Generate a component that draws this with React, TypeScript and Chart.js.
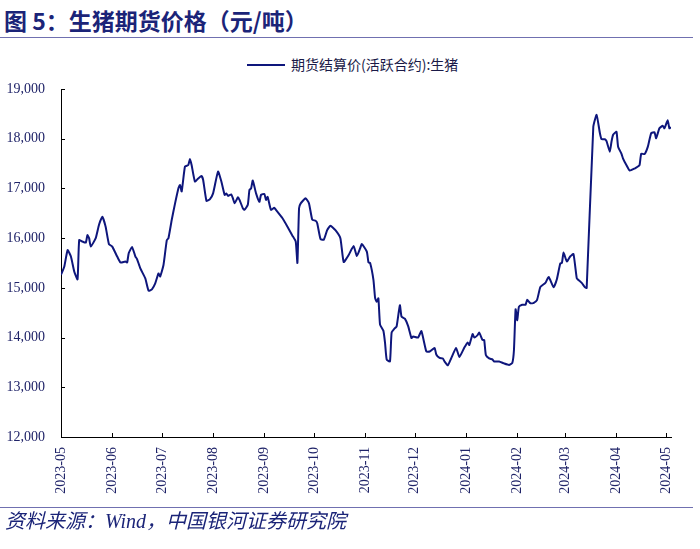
import React, { useEffect, useRef } from "react";
import { Chart, registerables } from "chart.js";

Chart.register(...registerables);

const TITLE = "图 5：生猪期货价格（元/吨）";
const SERIES_NAME = "期货结算价(活跃合约):生猪";
const SOURCE = "资料来源：Wind，中国银河证券研究院";

// trading days, counted in days since 2023-05-01
const dayOffsets = [
  0, 2, 4, 6, 8, 10, 11, 13, 15, 16, 17, 18, 21, 23, 25, 27, 29, 31, 34, 36,
  39, 40, 41, 43, 45, 46, 48, 51, 53, 55, 57, 59, 60, 62, 64, 65, 67, 69, 71, 72,
  73, 75, 77, 78, 79, 81, 83, 85, 86, 88, 90, 92, 95, 97, 99, 100, 101, 103, 104, 105,
  107, 108, 110, 111, 113, 114, 115, 116, 118, 120, 121, 123, 124, 125, 127, 129, 130, 134, 137, 140,
  142, 143, 144, 145, 148, 150, 152, 154, 155, 157, 159, 161, 163, 166, 169, 171, 174, 177, 179, 181,
  182, 185, 186, 187, 189, 190, 191, 192, 193, 195, 196, 197, 199, 200, 202, 203, 205, 206, 208, 210,
  212, 213, 216, 218, 221, 223, 226, 227, 229, 231, 232, 234, 236, 239, 241, 244, 246, 247, 249, 250,
  252, 253, 255, 256, 257, 259, 261, 262, 265, 268, 271, 273, 274, 275, 276, 277, 279, 281, 282, 284,
  286, 288, 290, 293, 295, 298, 300, 302, 303, 304, 306, 308, 310, 312, 313, 315, 317, 318, 322, 324,
  326, 327, 329, 330, 332, 333, 334, 336, 337, 339, 340, 342, 344, 347, 349, 350, 351, 353, 355, 357,
  359, 360, 362, 364, 365, 367, 368, 369,
];

const prices = [
  15260, 15430, 15760, 15630, 15330, 15170, 15960, 15930, 15910, 16060, 16000, 15830, 16000, 16270, 16430, 16230, 15880, 15830, 15630, 15510,
  15530, 15510, 15700, 15820, 15630, 15580, 15390, 15190, 14940, 14970, 15090, 15290, 15230, 15460, 15960, 16000, 16370, 16700, 17000, 17070,
  16940, 17440, 17470, 17590, 17470, 17140, 17200, 17250, 17170, 16750, 16780, 16900, 17340, 17140, 16870, 16900, 16850, 16880, 16800, 16700,
  16820, 16770, 16600, 16570, 16670, 16970, 17000, 17160, 16900, 16730, 16870, 16890, 16770, 16830, 16570, 16610, 16570, 16400, 16230, 16050,
  15930, 15500, 16600, 16700, 16800, 16700, 16370, 16350, 16300, 15980, 15970, 16160, 16250, 16160, 16000, 15520, 15660, 15840, 15640, 15800,
  15880, 15730, 15510, 15500, 15160, 14800, 14720, 14790, 14260, 14140, 13900, 13560, 13520, 14100, 14190, 14220, 14650, 14420, 14380, 14230,
  13990, 14020, 14000, 14130, 13720, 13720, 13790, 13660, 13590, 13580, 13520, 13440, 13580, 13790, 13610, 13800, 13900, 13850, 14070, 14000,
  14050, 14100, 13950, 13950, 13650, 13580, 13560, 13520, 13520, 13480, 13450, 13490, 13750, 14570, 14350, 14620, 14660, 14660, 14760, 14690,
  14700, 14760, 15020, 15100, 15220, 15010, 15180, 15490, 15500, 15710, 15530, 15630, 15680, 15190, 15160, 15100, 15010, 15000, 18240, 18480,
  18110, 17990, 17990, 17950, 17740, 17940, 18080, 18140, 17840, 17700, 17600, 17470, 17360, 17400, 17440, 17470, 17700, 17690, 17840, 18110,
  18130, 18010, 18210, 18260, 18210, 18370, 18210, 18230,
];

const monthTickDays = [0, 31, 61, 92, 123, 153, 184, 214, 245, 276, 305, 336, 366];
const monthTickLabels = [
  "2023-05", "2023-06", "2023-07", "2023-08", "2023-09", "2023-10", "2023-11",
  "2023-12", "2024-01", "2024-02", "2024-03", "2024-04", "2024-05",
];
const yTickValues = [12000, 13000, 14000, 15000, 16000, 17000, 18000, 19000];

const LINE_COLOR = "#0e167c";
const NAVY = "#1b2478";
const TICK_COLOR = "#1f2368";
const SERIF = "'Liberation Serif', 'Times New Roman', serif";
const CJK = "'Noto Sans CJK SC', sans-serif";

const innerTicks = {
  id: "innerTicks",
  afterDraw(chart: any) {
    const { ctx, chartArea, scales } = chart;
    ctx.save();
    ctx.strokeStyle = "#000";
    ctx.lineWidth = 1;
    ctx.beginPath();
    scales.x.ticks.forEach((t: any) => {
      const px = Math.round(scales.x.getPixelForValue(t.value)) + 0.5;
      ctx.moveTo(px, chartArea.bottom);
      ctx.lineTo(px, chartArea.bottom - 4);
    });
    scales.y.ticks.forEach((t: any) => {
      const py = Math.round(scales.y.getPixelForValue(t.value)) + 0.5;
      ctx.moveTo(chartArea.left, py);
      ctx.lineTo(chartArea.left + 4, py);
    });
    ctx.stroke();
    ctx.restore();
  },
};

export default function App() {
  const ref = useRef<HTMLCanvasElement | null>(null);

  useEffect(() => {
    if (!ref.current) return;
    const data = dayOffsets.map((d, i) => ({ x: d, y: prices[i] }));
    const chart = new Chart(ref.current, {
      type: "line",
      data: {
        datasets: [
          {
            label: SERIES_NAME,
            data,
            borderColor: LINE_COLOR,
            backgroundColor: LINE_COLOR,
            borderWidth: 2,
            pointRadius: 0,
            tension: 0.15,
          },
        ],
      },
      options: {
        responsive: false,
        maintainAspectRatio: false,
        animation: false,
        layout: { padding: { top: 89, left: 0, right: 29, bottom: 0 } },
        plugins: {
          legend: { display: false },
          tooltip: { enabled: false },
        },
        scales: {
          x: {
            type: "linear",
            min: 0,
            max: 369,
            afterBuildTicks: (s: any) => {
              s.ticks = monthTickDays.map((v) => ({ value: v }));
            },
            afterFit: (s: any) => {
              s.height = 112;
            },
            grid: { drawOnChartArea: false, drawTicks: false },
            border: { display: true, color: "#000", width: 1 },
            ticks: {
              autoSkip: false,
              maxRotation: 90,
              minRotation: 90,
              padding: 10,
              color: TICK_COLOR,
              font: { family: SERIF, size: 14 },
              callback: (_v: any, i: number) => monthTickLabels[i],
            },
          },
          y: {
            min: 12000,
            max: 19000,
            afterBuildTicks: (s: any) => {
              s.ticks = yTickValues.map((v) => ({ value: v }));
            },
            afterFit: (s: any) => {
              s.width = 61;
            },
            grid: { drawOnChartArea: false, drawTicks: false },
            border: { display: true, color: "#000", width: 1 },
            ticks: {
              padding: 16,
              color: TICK_COLOR,
              font: { family: SERIF, size: 14 },
              callback: (v: any) => Number(v).toLocaleString("en-US"),
            },
          },
        },
      },
      plugins: [innerTicks],
    } as any);
    return () => chart.destroy();
  }, []);

  return (
    <div
      style={{
        position: "absolute",
        left: 0,
        top: 0,
        width: 700,
        height: 549,
        background: "#fff",
        overflow: "hidden",
      }}
    >
      <div
        style={{
          position: "absolute",
          left: 4,
          top: 9,
          fontFamily: CJK,
          fontWeight: 700,
          fontSize: 23,
          lineHeight: "23px",
          color: NAVY,
          whiteSpace: "nowrap",
        }}
      >
        {TITLE}
      </div>
      <div style={{ position: "absolute", left: 0, top: 37, width: 693, height: 1, background: "#7070b0" }} />
      <div style={{ position: "absolute", left: 247, top: 64, width: 38, height: 2, background: LINE_COLOR }} />
      <div
        style={{
          position: "absolute",
          left: 291,
          top: 57,
          fontFamily: CJK,
          fontSize: 14,
          lineHeight: "14px",
          color: "#1a1a48",
          whiteSpace: "nowrap",
        }}
      >
        {SERIES_NAME}
      </div>
      <canvas
        ref={ref}
        width={700}
        height={549}
        style={{ position: "absolute", left: 0, top: 0, width: 700, height: 549 }}
      />
      <div style={{ position: "absolute", left: 0, top: 507, width: 693, height: 1, background: "#7070b0" }} />
      <div
        style={{
          position: "absolute",
          left: 5,
          top: 511,
          fontFamily: `${SERIF.split(",")[0]}, ${CJK}`,
          fontStyle: "italic",
          fontSize: 20,
          lineHeight: "20px",
          color: NAVY,
          whiteSpace: "nowrap",
        }}
      >
        {SOURCE}
      </div>
    </div>
  );
}
